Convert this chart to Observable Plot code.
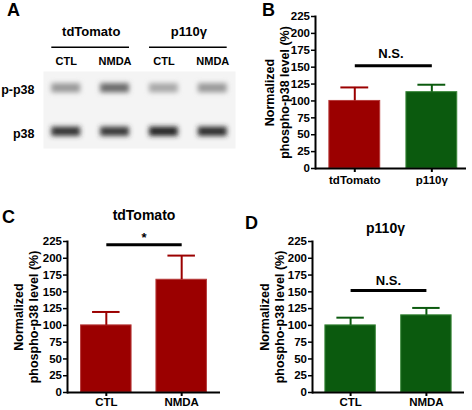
<!DOCTYPE html>
<html><head><meta charset="utf-8">
<script src="https://cdn.jsdelivr.net/npm/d3@7"></script>
<script src="https://cdn.jsdelivr.net/npm/@observablehq/plot@0.6"></script>
<style>
body{margin:0;background:#fff;}
#fig{position:relative;width:472px;height:410px;overflow:hidden;font-family:"Liberation Sans",Arial,Helvetica,sans-serif;font-weight:bold;}
.panel{position:absolute;}
.letter{position:absolute;font-size:18px;font-weight:bold;line-height:1;color:#000;}
</style></head><body><div id="fig"></div>
<script>
// ---------- Panel A (western blot) ----------
const lanes = ["tdTomato CTL", "tdTomato NMDA", "p110γ CTL", "p110γ NMDA"];
const laneLabels = ["CTL", "NMDA", "CTL", "NMDA"];
const blotGroups = ["tdTomato", "p110γ"];
const proteins = ["p-p38", "p38"];
const pp38Intensity = [0.40, 0.58, 0.34, 0.40];
const p38Intensity = [0.80, 0.78, 0.86, 0.84];

// ---------- Panel B ----------
const groupsB = ["tdTomato", "p110γ"];
const meanB = [100, 113];
const semB = [20, 11];
const sigB = 152;
const sigTextB = "N.S.";

// ---------- Panel C (tdTomato) ----------
const conditions = ["CTL", "NMDA"];
const meanC = [100, 168];
const semC = [20, 36];
const sigC = 220;
const sigTextC = "*";
const titleC = "tdTomato";

// ---------- Panel D (p110γ) ----------
const meanD = [100, 115];
const semD = [11.5, 11];
const sigD = 152;
const sigTextD = "N.S.";
const titleD = "p110γ";

const yTicks = [0, 25, 50, 75, 100, 125, 150, 175, 200, 225];
const yLabel = "Normalized\nphospho-p38 level (%)";

const FONT = "'Liberation Sans', Arial, Helvetica, sans-serif";
const RED = "#9b0000", RED_EDGE = "#b73a3a";
const GREEN = "#0b5a0e", GREEN_EDGE = "#3a873a";

const fig = document.getElementById("fig");
function place(node, left, top) {
  const d = document.createElement("div");
  d.className = "panel";
  d.style.left = left + "px";
  d.style.top = top + "px";
  d.appendChild(node);
  fig.appendChild(d);
}
function letter(t, left, top) {
  const d = document.createElement("div");
  d.className = "letter";
  d.textContent = t;
  d.style.left = left + "px";
  d.style.top = top + "px";
  fig.appendChild(d);
}
const baseStyle = {fontFamily: FONT, fontWeight: "bold", fontSize: "11px", color: "black", background: "transparent", overflow: "visible"};

// ---------- Panel A ----------
const blotData = [];
proteins.forEach((p, r) => lanes.forEach((l, i) =>
  blotData.push({lane: l, protein: p, v: (r === 0 ? pp38Intensity : p38Intensity)[i]})));

const svgA = Plot.plot({
  width: 236, height: 205,
  marginLeft: 43, marginRight: 1, marginTop: 71, marginBottom: 57,
  x: {domain: lanes, paddingInner: 0.41, paddingOuter: 0.17, round: false, axis: null},
  y: {domain: proteins, paddingInner: 0.79, paddingOuter: 0.28, round: false, axis: null},
  color: {type: "linear", domain: [0, 1], range: ["#ffffff", "#000000"]},
  style: baseStyle,
  marks: [
    Plot.frame({fill: "#f4f4f4", stroke: "none"}),
    Plot.cell(blotData, {x: "lane", y: "protein", fill: "v"}),
    Plot.text(proteins, {y: d => d, text: d => d, frameAnchor: "left", textAnchor: "end", dx: -9, dy: 2, fontSize: 12.5}),
    Plot.text(lanes, {x: d => d, y: () => proteins[0], text: (d, i) => laneLabels[i], dy: -27, fontSize: 11}),
    Plot.text(blotGroups, {x: (d, i) => lanes[2 * i], y: () => proteins[0], text: d => d, dx: 25, dy: -56, fontSize: 13}),
    Plot.ruleY(blotGroups, {x1: (d, i) => lanes[2 * i], x2: (d, i) => lanes[2 * i + 1], y: () => proteins[0], dy: -41, strokeWidth: 1.5})
  ]
});
{
  const s = d3.select(svgA);
  const f = s.insert("defs", ":first-child").append("filter")
    .attr("id", "blotBlur").attr("x", "-20%").attr("y", "-40%").attr("width", "140%").attr("height", "180%");
  f.append("feGaussianBlur").attr("stdDeviation", 2.5);
  s.select('g[aria-label="cell"]').attr("filter", "url(#blotBlur)");
}
place(svgA, 0, 0);

// ---------- Bar panels ----------
function barPanel(o) {
  const data = o.cats.map((c, i) => ({c, m: o.means[i], e: o.means[i] + o.sems[i], fill: o.fills[i], edge: o.edges[i]}));
  const marks = [
    Plot.barY(data, {x: "c", y: "m", fill: d => d.fill, stroke: d => d.edge, strokeWidth: 1}),
    Plot.ruleX(data, {x: "c", y1: "m", y2: "e", stroke: d => d.fill, strokeWidth: 2}),
    Plot.tickY(data, {x: "c", y: "e", stroke: d => d.fill, strokeWidth: 2, insetLeft: 11.5, insetRight: 11.5}),
    Plot.ruleY([0], {strokeWidth: 2}),
    Plot.frame({anchor: "left", strokeWidth: 2}),
    Plot.axisY({ticks: yTicks, tickSize: 4, tickPadding: 1.5, strokeWidth: 1.5, fontSize: 11.5, label: null}),
    Plot.axisX({tickSize: 4, tickPadding: o.xPad, strokeWidth: 2, fontSize: 11.5, label: null}),
    Plot.link([o.sig], {x1: () => o.cats[0], x2: () => o.cats[1], y1: d => d, y2: d => d, strokeWidth: 3}),
    Plot.text([o.sig], {y: d => d, text: () => o.sigText, dy: o.sigDy, fontSize: o.sigSize}),
    Plot.text([yLabel], {frameAnchor: "left", textAnchor: "middle", lineAnchor: "middle", rotate: -90, dx: o.labelDx, lineHeight: 1.25, fontSize: 12.5, text: d => d})
  ];
  if (o.title) marks.push(Plot.text([o.title], {frameAnchor: "top", textAnchor: "middle", lineAnchor: "middle", dy: o.titleDy, dx: o.titleDx || 0, fontSize: 14, text: d => d}));
  return Plot.plot({
    width: 236, height: 205,
    marginLeft: o.ml, marginRight: o.mr, marginTop: o.mt, marginBottom: o.mb,
    x: {domain: o.cats, paddingInner: o.pi, paddingOuter: o.po, align: o.align, round: false},
    y: {domain: [0, 225]},
    style: baseStyle,
    marks
  });
}

place(barPanel({
  cats: groupsB, means: meanB, sems: semB, fills: [RED, GREEN], edges: [RED_EDGE, GREEN_EDGE],
  sig: sigB, sigText: sigTextB, sigDy: -12, sigSize: 13, xPad: 3.5,
  ml: 79, mr: 6, mt: 16, mb: 37, pi: 0.34, po: 0.15, align: 0.6, labelDx: -39
}), 236, 0);

place(barPanel({
  cats: conditions, means: meanC, sems: semC, fills: [RED, RED], edges: [RED_EDGE, RED_EDGE],
  sig: sigC, sigText: sigTextC, sigDy: -7, sigSize: 13, xPad: 1.5,
  title: titleC, titleDy: -26,
  ml: 67, mr: 16, mt: 36, mb: 18, pi: 0.33, po: 0.18, align: 0.5, labelDx: -42
}), 0, 205);

place(barPanel({
  cats: conditions, means: meanD, sems: semD, fills: [GREEN, GREEN], edges: [GREEN_EDGE, GREEN_EDGE],
  sig: sigD, sigText: sigTextD, sigDy: -10, sigSize: 13, xPad: 1.5,
  title: titleD, titleDy: -13, titleDx: -3,
  ml: 76, mr: 8, mt: 36, mb: 18, pi: 0.335, po: 0.17, align: 0.5, labelDx: -41
}), 236, 205);

letter("A", 7, 1);
letter("B", 262, 1);
letter("C", 2, 208);
letter("D", 245, 214);
</script></body></html>
